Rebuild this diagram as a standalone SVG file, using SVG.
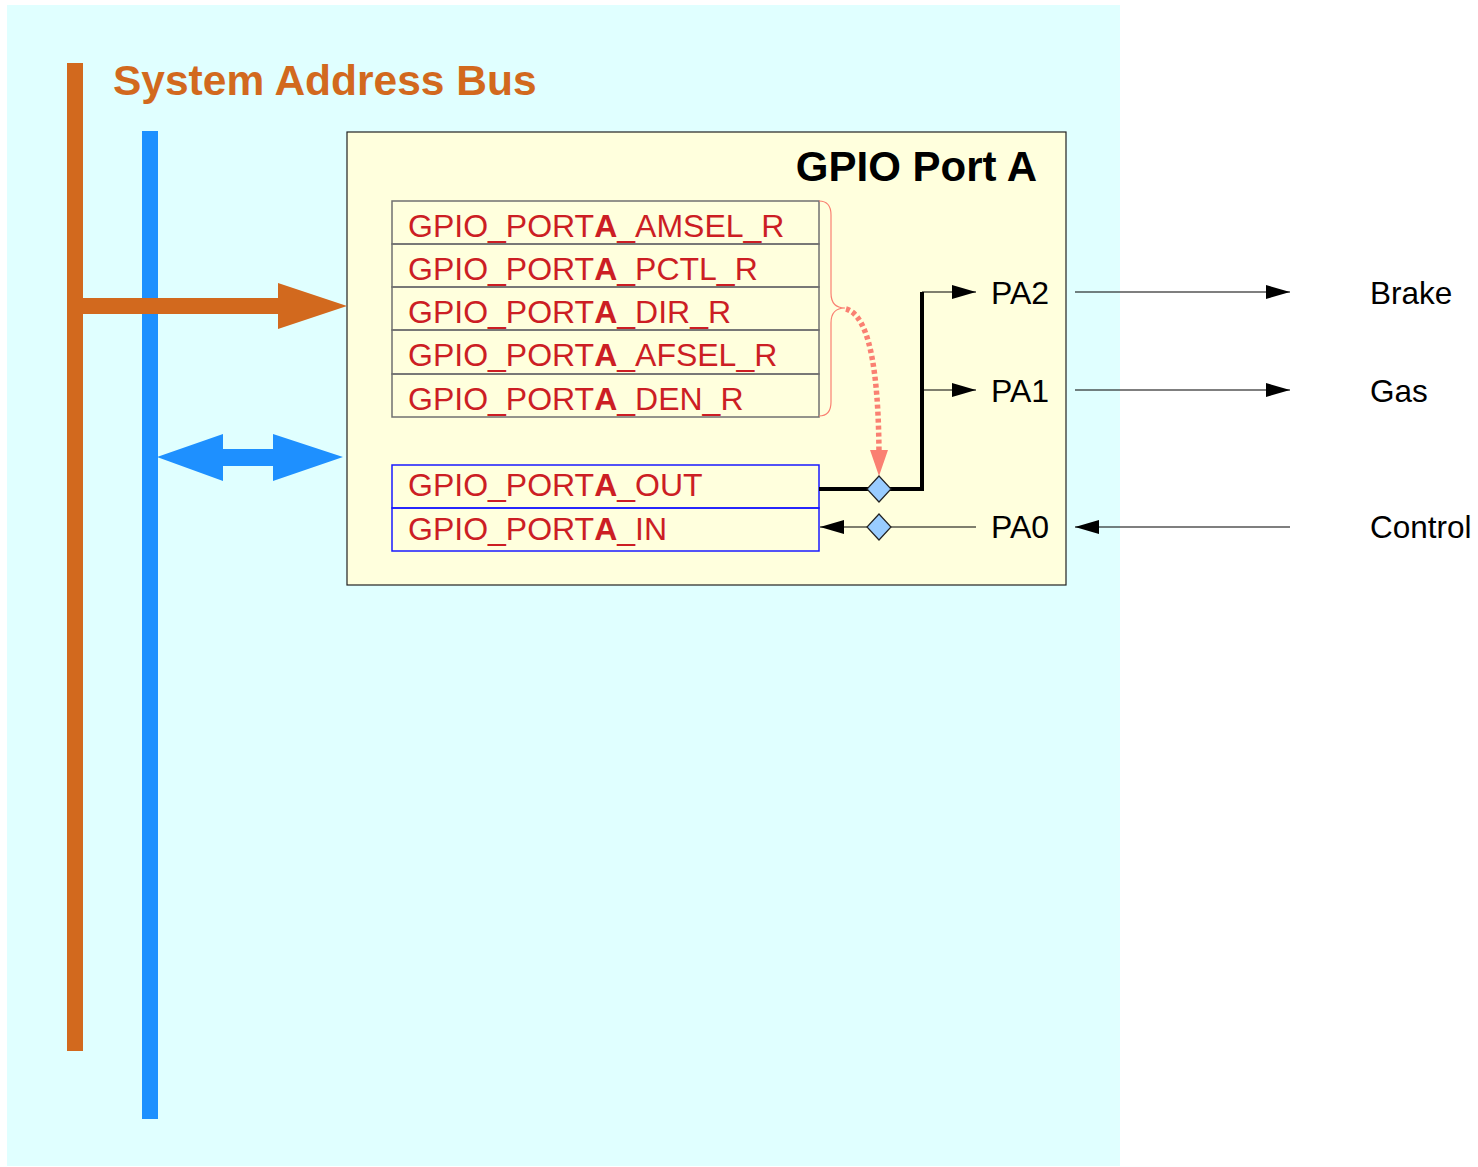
<svg xmlns="http://www.w3.org/2000/svg" width="1478" height="1167" viewBox="0 0 1478 1167">
  <defs>
    <style>
      .reg { font-family: "Liberation Sans", Arial, sans-serif; font-size: 32px; fill: #cc1e24; }
      .lbl { font-family: "Liberation Sans", Arial, sans-serif; font-size: 32px; fill: #000; }
      .sig { font-family: "Liberation Sans", Arial, sans-serif; font-size: 31.5px; fill: #000; }
      .row { fill: none; stroke: #707070; stroke-width: 1.5; }
      .io { fill: none; stroke: #1a1aff; stroke-width: 1.5; }
      .thin { fill: none; stroke: #000; stroke-width: 1.2; }
      .dia { fill: #99ccff; stroke: #222; stroke-width: 1.2; }
    </style>
    <marker id="tri" viewBox="0 0 24 14" refX="24" refY="7" markerWidth="24" markerHeight="14" markerUnits="userSpaceOnUse" orient="auto">
      <path d="M0,0 L24,7 L0,14 Z" fill="#000"/>
    </marker>
    <marker id="salmonHead" viewBox="0 0 18 26" refX="9" refY="26" markerWidth="18" markerHeight="26" markerUnits="userSpaceOnUse" orient="0">
      <path d="M0,0 L18,0 L9,26 Z" fill="#fa8072"/>
    </marker>
  </defs>

  <!-- backdrop -->
  <rect x="7" y="5" width="1113" height="1161" fill="#e0ffff"/>

  <!-- system buses -->
  <g id="address-bus">
    <rect x="67" y="63" width="16" height="988" fill="#d2691e"/>
    <text x="113" y="95" font-family="'Liberation Sans', Arial, sans-serif" font-size="42.5" font-weight="bold" fill="#d2691e">System Address Bus</text>
  </g>
  <g id="data-bus">
    <rect x="142" y="131" width="16" height="988" fill="#1e90ff"/>
  </g>

  <!-- GPIO port block -->
  <g id="gpio-port-a">
    <rect x="347" y="132" width="719" height="453" fill="#ffffdd" stroke="#222" stroke-width="1.2"/>
    <text x="1037" y="181" text-anchor="end" font-family="'Liberation Sans', Arial, sans-serif" font-size="42" font-weight="bold" fill="#000">GPIO Port A</text>
  </g>

  <g id="config-registers">
    <rect class="row" x="392" y="201" width="427" height="43"/>
    <rect class="row" x="392" y="244" width="427" height="43"/>
    <rect class="row" x="392" y="287" width="427" height="43"/>
    <rect class="row" x="392" y="330" width="427" height="44"/>
    <rect class="row" x="392" y="374" width="427" height="43"/>
    <text class="reg" x="408" y="237">GPIO_PORT<tspan font-weight="bold">A</tspan>_AMSEL_R</text>
    <text class="reg" x="408" y="280">GPIO_PORT<tspan font-weight="bold">A</tspan>_PCTL_R</text>
    <text class="reg" x="408" y="323">GPIO_PORT<tspan font-weight="bold">A</tspan>_DIR_R</text>
    <text class="reg" x="408" y="366">GPIO_PORT<tspan font-weight="bold">A</tspan>_AFSEL_R</text>
    <text class="reg" x="408" y="410">GPIO_PORT<tspan font-weight="bold">A</tspan>_DEN_R</text>
  </g>

  <g id="data-registers">
    <rect class="io" x="392" y="465" width="427" height="43"/>
    <rect class="io" x="392" y="508" width="427" height="43"/>
    <text class="reg" x="408" y="496">GPIO_PORT<tspan font-weight="bold">A</tspan>_OUT</text>
    <text class="reg" x="408" y="540">GPIO_PORT<tspan font-weight="bold">A</tspan>_IN</text>
  </g>

  <g id="pin-labels">
    <text class="lbl" x="991" y="304">PA2</text>
    <text class="lbl" x="991" y="402">PA1</text>
    <text class="lbl" x="991" y="538">PA0</text>
  </g>

  <g id="signal-labels">
    <text class="sig" x="1370" y="304">Brake</text>
    <text class="sig" x="1370" y="402">Gas</text>
    <text class="sig" x="1370" y="538">Control</text>
  </g>

  <!-- connectors -->
  <g id="connectors">
    <!-- address bus into the port -->
    <path d="M83,298 H278 V283 L347,306 L278,329 V314 H83 Z" fill="#d2691e"/>
    <!-- bidirectional data path -->
    <path d="M157,457 L223,434 V449 H273 V434 L343,457 L273,481 V466 H223 V481 Z" fill="#1e90ff"/>

    <!-- brace grouping the configuration registers -->
    <path d="M819,201 Q831,201 831,215 V293 Q831,308 845,308 Q831,308 831,323 V402 Q831,416 819,416" fill="none" stroke="#fa8072" stroke-width="1.2"/>
    <!-- configuration control onto the output pin -->
    <path d="M846,309 Q879,318 879,460" fill="none" stroke="#fa8072" stroke-width="5.5" stroke-dasharray="4,3"/>
    <path d="M870,450 L888,450 L879,476 Z" fill="#fa8072"/>

    <!-- output driver -->
    <polyline points="819,489 922,489 922,292" fill="none" stroke="#000" stroke-width="4"/>
    <line class="thin" x1="922" y1="292" x2="976" y2="292" marker-end="url(#tri)"/>
    <line class="thin" x1="922" y1="390" x2="976" y2="390" marker-end="url(#tri)"/>
    <!-- input path -->
    <line class="thin" x1="976" y1="527" x2="820" y2="527" marker-end="url(#tri)"/>

    <!-- switch points -->
    <path class="dia" d="M879,476 L891,489 L879,502 L867,489 Z"/>
    <path class="dia" d="M879,514 L891,527 L879,540 L867,527 Z"/>

    <!-- external signals -->
    <line class="thin" x1="1075" y1="292" x2="1290" y2="292" marker-end="url(#tri)"/>
    <line class="thin" x1="1075" y1="390" x2="1290" y2="390" marker-end="url(#tri)"/>
    <line class="thin" x1="1290" y1="527" x2="1075" y2="527" marker-end="url(#tri)"/>
  </g>
</svg>
